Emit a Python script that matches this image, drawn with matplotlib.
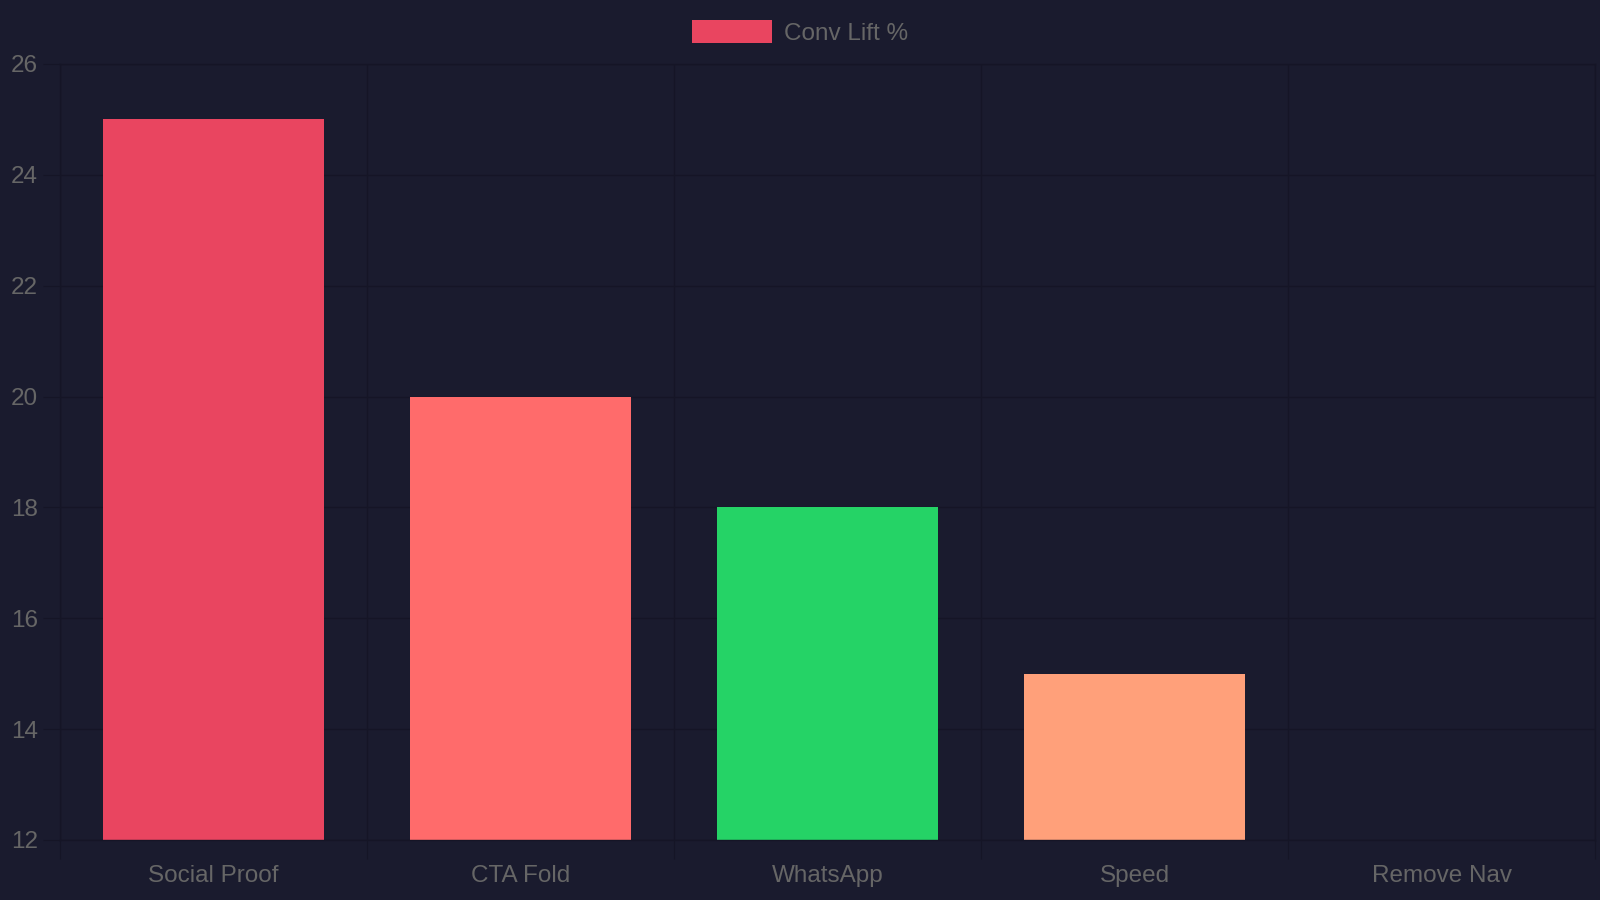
import matplotlib
matplotlib.use("Agg")
import matplotlib.pyplot as plt
from matplotlib.patches import Patch
from matplotlib.ticker import FixedLocator, MultipleLocator

# data
tests = ["Social Proof", "CTA Fold", "WhatsApp", "Speed", "Remove Nav"]
conv_lift = [25, 20, 18, 15, 12]
bar_colors = ["#e94560", "#ff6b6b", "#25d366", "#ffa07a", "#7b68ee"]
series_name = "Conv Lift %"

bg = "#1a1b2e"
grid_c = "#151526"
text_c = "#666666"

plt.rcParams["font.family"] = ["Liberation Sans", "DejaVu Sans"]

fig = plt.figure(figsize=(16, 9), dpi=100, facecolor=bg)
ax = fig.add_axes([0.0375, 0.0667, 0.9595, 0.8623])
ax.set_facecolor(bg)

x = list(range(len(tests)))
ax.bar(x, conv_lift, width=0.72, color=bar_colors, zorder=2)

ax.set_xlim(-0.5, len(tests) - 0.5)
ax.set_ylim(12, 26)
ax.yaxis.set_major_locator(MultipleLocator(2))

# category labels at centres, grid lines at category boundaries (offset grid)
ax.set_xticks(x)
ax.set_xticklabels(tests)
ax.xaxis.set_minor_locator(FixedLocator([i - 0.5 for i in range(len(tests) + 1)]))
ax.tick_params(axis="x", which="major", length=0, pad=18, labelsize=17.5, colors=text_c)
ax.tick_params(axis="x", which="minor", length=14, width=0.75, color=grid_c)
ax.tick_params(axis="y", which="major", length=12, width=0.75, color=grid_c,
               labelcolor=text_c, labelsize=17.5, pad=4)

ax.grid(True, axis="y", which="major", color=grid_c, linewidth=1, zorder=0)
ax.grid(True, axis="x", which="minor", color=grid_c, linewidth=1, zorder=0)
ax.set_axisbelow(True)
for s in ax.spines.values():
    s.set_color(grid_c)
    s.set_linewidth(1)

handles = [Patch(facecolor=bar_colors[0], edgecolor="none", label=series_name)]
leg = fig.legend(handles=handles, loc="center", bbox_to_anchor=(0.5, 0.964),
                 frameon=False, fontsize=17.5, handlelength=3.3, handleheight=1.1,
                 handletextpad=0.5, borderpad=0)
for t in leg.get_texts():
    t.set_color(text_c)

fig.savefig("out.png", dpi=100, facecolor=bg)
